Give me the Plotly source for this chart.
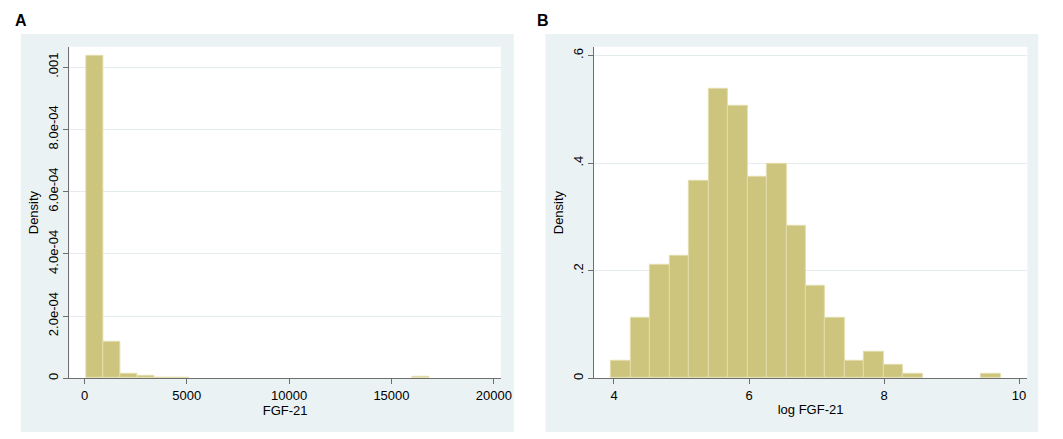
import plotly.graph_objects as go

W, H = 1063, 439

# ---------- Data ----------
# Panel A: FGF-21 histogram (20 bins)
a_bin_start = 68
a_bin_width = 840
a_density = [0.001035, 0.0001172, 0.000015, 0.0000075, 0.000003, 0.000003,
             0, 0, 0, 0, 0, 0, 0, 0, 0, 0, 0, 0, 0, 0.000005]
a_xticks = [0, 5000, 10000, 15000, 20000]
a_xticklabels = ["0", "5000", "10000", "15000", "20000"]
a_yticks = [0, 0.0002, 0.0004, 0.0006, 0.0008, 0.001]
a_yticklabels = ["0", "2.0e-04", "4.0e-04", "6.0e-04", "8.0e-04", ".001"]

# Panel B: log FGF-21 histogram (20 bins)
b_bin_start = 3.956
b_bin_width = 0.2886
b_density = [0.0327, 0.113, 0.2117, 0.2284, 0.3667, 0.5377, 0.5056, 0.3747,
             0.3994, 0.284, 0.1722, 0.113, 0.0327, 0.0494, 0.0247, 0.0086,
             0, 0, 0, 0.0086]
b_xticks = [4, 6, 8, 10]
b_xticklabels = ["4", "6", "8", "10"]
b_yticks = [0, 0.2, 0.4, 0.6]
b_yticklabels = ["0", ".2", ".4", ".6"]

# ---------- Styling ----------
BAR = "rgb(205,196,126)"
BAR_EDGE = "rgb(226,221,172)"
OUTER = "rgb(234,242,243)"
GRID = "rgb(228,236,238)"
AXIS = "rgb(110,110,110)"
FONT = "Liberation Sans, Arial, sans-serif"

def px(x):
    return x / W

def py(y):
    return 1 - y / H

a_dom_x = [px(62), px(498)]
b_dom_x = [px(592), px(1030)]
dom_y = [py(372), py(39)]

def bins(start, width, dens):
    xs, ys = [], []
    for i, d in enumerate(dens):
        if d > 0:  # empty bins are not drawn
            xs.append(start + (i + 0.5) * width)
            ys.append(d)
    return xs, ys

fig = go.Figure()

ax, ay = bins(a_bin_start, a_bin_width, a_density)
bx, by = bins(b_bin_start, b_bin_width, b_density)

fig.add_trace(go.Bar(x=ax, y=ay, width=a_bin_width,
                     marker=dict(color=BAR, line=dict(color=BAR_EDGE, width=1)),
                     xaxis="x", yaxis="y", showlegend=False))
fig.add_trace(go.Bar(x=bx, y=by, width=b_bin_width,
                     marker=dict(color=BAR, line=dict(color=BAR_EDGE, width=1)),
                     xaxis="x2", yaxis="y2", showlegend=False))

tickfont = dict(family=FONT, size=13, color="black")
titlefont = dict(family=FONT, size=13, color="black")

common_x = dict(showline=True, linecolor=AXIS, linewidth=1, ticks="outside",
                ticklen=5, tickcolor=AXIS, tickwidth=1, showgrid=False,
                zeroline=False, tickfont=tickfont)
common_y = dict(showline=True, linecolor=AXIS, linewidth=1, ticks="outside",
                ticklen=5, tickcolor=AXIS, tickwidth=1, showgrid=True,
                gridcolor=GRID, gridwidth=1, zeroline=False, tickfont=tickfont,
                tickangle=-90, domain=dom_y)

fig.update_layout(
    width=W, height=H,
    margin=dict(l=0, r=0, t=0, b=0),
    paper_bgcolor="white",
    plot_bgcolor="rgba(0,0,0,0)",
    bargap=0,
    font=dict(family=FONT, size=13, color="black"),
    xaxis=dict(common_x, domain=a_dom_x, anchor="y",
               range=[-740, 20345], tickmode="array",
               tickvals=a_xticks, ticktext=a_xticklabels,
               title=dict(text="FGF-21", font=titlefont, standoff=2)),
    yaxis=dict(common_y, anchor="x", range=[0, 0.001065], tickmode="array",
               tickvals=a_yticks, ticktext=a_yticklabels,
               title=dict(text="Density", font=titlefont, standoff=4)),
    xaxis2=dict(common_x, domain=b_dom_x, anchor="y2",
                range=[3.702, 10.122], tickmode="array",
                tickvals=b_xticks, ticktext=b_xticklabels,
                title=dict(text="log FGF-21", font=titlefont, standoff=2)),
    yaxis2=dict(common_y, anchor="x2", range=[0, 0.616], tickmode="array",
                tickvals=b_yticks, ticktext=b_yticklabels,
                title=dict(text="Density", font=titlefont, standoff=4)),
)

# outer light panels and white plot regions
shapes = []
for x0, x1 in [(13, 511), (543, 1041)]:
    shapes.append(dict(type="rect", xref="paper", yref="paper",
                       x0=px(x0), x1=px(x1), y0=py(426), y1=py(26),
                       fillcolor=OUTER, line=dict(width=0), layer="below"))
for dx in (a_dom_x, b_dom_x):
    shapes.append(dict(type="rect", xref="paper", yref="paper",
                       x0=dx[0], x1=dx[1], y0=dom_y[0], y1=dom_y[1],
                       fillcolor="white", line=dict(width=0), layer="below"))
fig.update_layout(shapes=shapes)

fig.add_annotation(text="<b>A</b>", xref="paper", yref="paper",
                   x=px(5), y=py(13), xanchor="left", yanchor="middle",
                   showarrow=False, font=dict(family=FONT, size=16, color="black"))
fig.add_annotation(text="<b>B</b>", xref="paper", yref="paper",
                   x=px(533), y=py(13), xanchor="left", yanchor="middle",
                   showarrow=False, font=dict(family=FONT, size=16, color="black"))

fig.write_html("out.html")
